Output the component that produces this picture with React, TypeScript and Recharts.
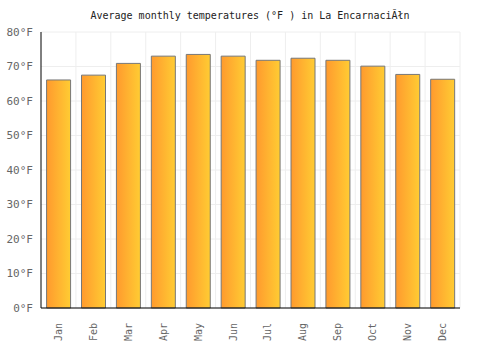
import React from 'react'
import { BarChart, Bar, XAxis, YAxis, CartesianGrid } from 'recharts'

const months = ['Jan', 'Feb', 'Mar', 'Apr', 'May', 'Jun', 'Jul', 'Aug', 'Sep', 'Oct', 'Nov', 'Dec']
const temps = [66.1, 67.5, 70.9, 73.0, 73.5, 73.0, 71.8, 72.4, 71.8, 70.1, 67.7, 66.3]
const yTicks = [0, 10, 20, 30, 40, 50, 60, 70, 80]

const data = months.map((m, i) => ({ month: m, temp: temps[i] }))

const font = '"DejaVu Sans Mono", monospace'

function MonthTick(props: any) {
  const { x, y, payload } = props
  return (
    <text
      x={x}
      y={y + 7}
      transform={`rotate(-90, ${x}, ${y + 7})`}
      textAnchor="end"
      dominantBaseline="central"
      fontFamily={font}
      fontSize={10}
      fill="#666"
    >
      {payload.value}
    </text>
  )
}

export default function App() {
  return (
    <div style={{ position: 'absolute', left: 0, top: 0, width: 500, height: 350, background: '#fff' }}>
      <div
        style={{
          position: 'absolute',
          top: 10,
          width: 500,
          textAlign: 'center',
          fontFamily: font,
          fontSize: 10,
          color: '#222',
        }}
      >
        Average monthly temperatures (°F ) in La EncarnaciĂłn
      </div>
      <BarChart
        width={500}
        height={350}
        data={data}
        margin={{ top: 32, right: 40, bottom: 0, left: 0 }}
        barCategoryGap="16%"
      >
        <defs>
          <linearGradient id="barFill" x1="0" y1="0" x2="1" y2="0">
            <stop offset="0%" stopColor="#ff9a2e" />
            <stop offset="100%" stopColor="#ffcc33" />
          </linearGradient>
        </defs>
        <CartesianGrid
          stroke="#eeeeee"
          verticalCoordinatesGenerator={({ offset }: any) =>
            months.map((_, i) => offset.left + ((i + 1) * offset.width) / months.length)
          }
        />
        <XAxis
          dataKey="month"
          height={42}
          axisLine={{ stroke: '#000' }}
          tickLine={false}
          tick={<MonthTick />}
          interval={0}
        />
        <YAxis
          width={41}
          domain={[0, 80]}
          ticks={yTicks}
          axisLine={{ stroke: '#000' }}
          tickLine={false}
          tickFormatter={(v: number) => `${v}°F`}
          tick={{ fontFamily: font, fontSize: 11, fill: '#666' }}
        />
        <Bar
          dataKey="temp"
          fill="url(#barFill)"
          stroke="#777"
          strokeWidth={1}
          isAnimationActive={false}
        />
      </BarChart>
    </div>
  )
}
